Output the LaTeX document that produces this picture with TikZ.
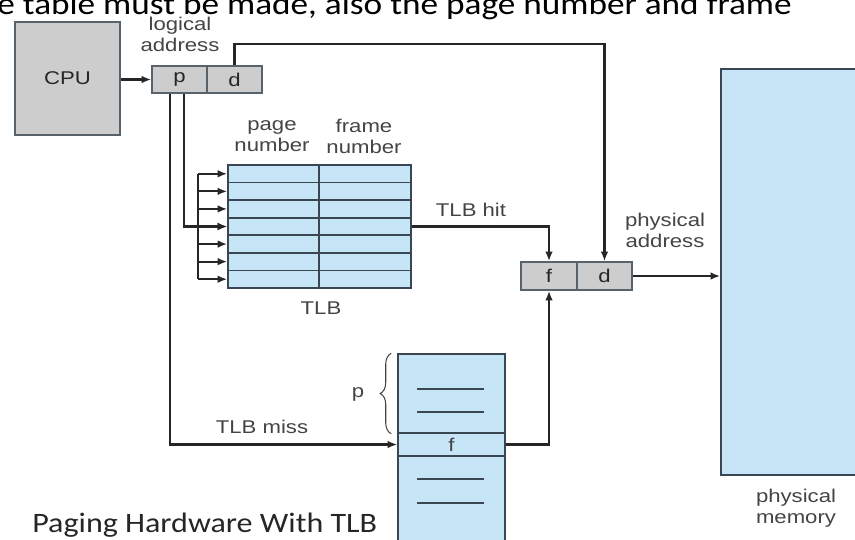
\documentclass[tikz,border=0pt]{standalone}
\usepackage{fontspec}
\setmainfont{Carlito}
\newfontfamily\lblfont[FakeStretch=1.2]{Liberation Sans}
\newfontfamily\capfont[FakeStretch=1.14]{Carlito}
\usetikzlibrary{arrows.meta,positioning,calc,decorations.pathreplacing}
\definecolor{ink}{HTML}{262626}
\definecolor{subtle}{HTML}{444444}
\definecolor{edge}{HTML}{3A4651}
\definecolor{cellfill}{HTML}{C6E6F8}
\definecolor{regfill}{HTML}{CDCDCD}

\begin{document}
\begin{tikzpicture}[
  x=0.02cm, y=-0.02cm,
  lbl/.style={font=\lblfont\fontsize{10.5}{12}\selectfont, text=subtle, align=center, inner sep=0pt},
  captext/.style={font=\capfont\fontsize{16}{19}\selectfont, text=ink, inner sep=0pt},
  arrow/.style={-{Latex[length=1.9mm, width=1.5mm]}, line width=1.2pt, draw=ink},
  wire/.style={line width=1.2pt, draw=ink},
  regbox/.style={draw=edge!85, line width=0.9pt, fill=regfill, inner sep=0pt, font=\lblfont\fontsize{10.5}{12}\selectfont, text=ink},
  tlbcell/.style={draw=edge, line width=0.9pt, fill=cellfill, inner sep=0pt, minimum height=0.3514cm},
  memcell/.style={draw=edge, line width=0.9pt, fill=cellfill, inner sep=0pt, minimum width=2.14cm, font=\lblfont\fontsize{10.5}{12}\selectfont, text=subtle}
]
\clip (0,0) rectangle (855,539);

% ---------- Kopfzeile (abgeschnitten) ----------
\node[captext, font=\capfont\fontsize{17.6}{20}\selectfont, text=black, anchor=base west] (headline) at (-3,14) {e table must be made, also the page number and frame};

% ---------- CPU und logische Adresse ----------
\node[regbox, minimum width=2.1cm, minimum height=2.26cm] (cpu) at (67.5,78.5) {CPU};
\node[regbox, minimum width=1.1cm, minimum height=0.54cm] (la_p) at (179.5,79.5) {p};
\node[regbox, minimum width=1.1cm, minimum height=0.54cm] (la_d) at (234.5,79.5) {d};
\node[lbl] (la_lbl) at (180,34) {logical\\address};

% ---------- TLB ----------
\foreach \r in {1,...,7} {
  \node[tlbcell, minimum width=1.82cm] (tlbp\r) at (273.5,{165+17.57*(\r-0.5)}) {};
  \node[tlbcell, minimum width=1.84cm] (tlbf\r) at (365,{165+17.57*(\r-0.5)}) {};
}
\node[lbl] (pn_lbl) at (272,136) {page\\number};
\node[lbl] (fn_lbl) at (364,136) {frame\\number};
\node[lbl] (tlb_lbl) at (321,308) {TLB};

% ---------- Seitentabelle ----------
\node[memcell, minimum height=1.58cm] (pt_top) at (451.5,393.5) {};
\node[memcell, minimum height=0.46cm] (pt_f) at (451.5,444.5) {f};
\node[memcell, minimum height=1.88cm] (pt_bot) at (451.5,503) {};
\foreach \y in {389,412,479,503} \draw[edge, line width=0.9pt] (417,\y) -- (484,\y);
\draw[subtle, line width=0.6pt, decorate, decoration={brace, amplitude=0.22cm}]
  ([xshift=-0.12cm]pt_top.south west) -- ([xshift=-0.12cm]pt_top.north west);
\node[lbl] (p_lbl) at (358,394) {p};

% ---------- physische Adresse und Speicher ----------
\node[regbox, minimum width=1.12cm, minimum height=0.56cm] (pa_f) at (549,276) {f};
\node[regbox, minimum width=1.1cm, minimum height=0.56cm] (pa_d) at (604.5,276) {d};
\node[lbl] (pa_lbl) at (665,230) {physical\\address};
\node[memcell, minimum width=3cm, minimum height=8.12cm] (mem) at (796,272) {};
\node[lbl] (mem_lbl) at (796,508) {physical\\memory};

% ---------- Verbindungen ----------
\coordinate (dtop) at (0,44);
\coordinate (bus) at (198,0);
\draw[arrow] (cpu.east |- la_p.west) -- (la_p.west);
\draw[arrow] (la_d.north) |- (pa_d.north |- dtop) -- (pa_d.north);
\draw[wire] (bus |- tlbp1.west) -- (bus |- tlbp7.west);
\foreach \r in {1,...,7} \draw[arrow] (bus |- tlbp\r.west) -- (tlbp\r.west);
\draw[arrow] ([xshift=0.09cm]la_p.south) |- (tlbp4.west);
\draw[arrow] ([xshift=-0.19cm]la_p.south) |- (pt_f.west);
\draw[arrow] (tlbf4.east) -| (pa_f.north);
\draw[arrow] (pt_f.east) -| (pa_f.south);
\draw[arrow] (pa_d.east) -- (mem.west |- pa_d.east);
\node[lbl] (hit_lbl) at (471,210) {TLB hit};
\node[lbl] (miss_lbl) at (262,427) {TLB miss};

% ---------- Bildunterschrift ----------
\node[captext, anchor=base west] (caption) at (32,532) {Paging Hardware With TLB};

\end{tikzpicture}
\end{document}
